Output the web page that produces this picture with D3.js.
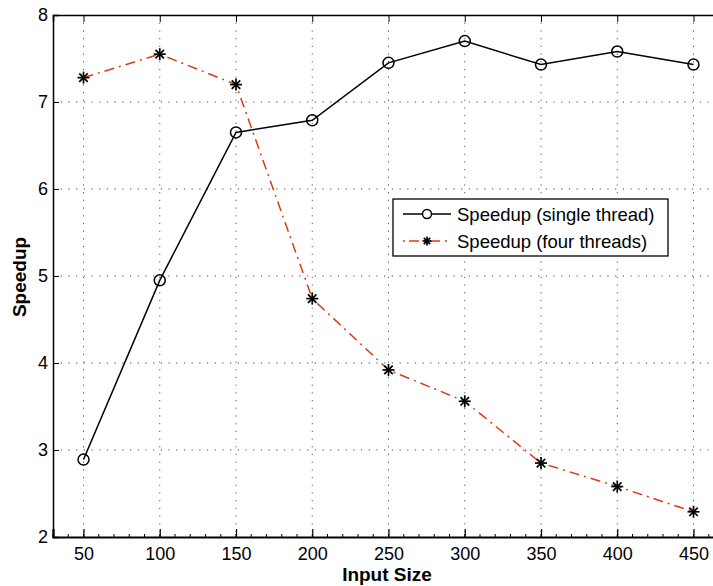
<!DOCTYPE html>
<html><head><meta charset="utf-8">
<script src="https://cdn.jsdelivr.net/npm/d3@7/dist/d3.min.js"></script>
<style>body{margin:0;background:#fff;} svg{display:block;}</style>
</head><body>
<svg id="c" width="713" height="586"></svg>
<script>
const inputSizes = [50,100,150,200,250,300,350,400,450];
const singleThread = [2.89,4.95,6.65,6.79,7.45,7.70,7.43,7.58,7.43];
const fourThreads = [7.28,7.55,7.20,4.74,3.92,3.56,2.85,2.58,2.29];
const xTicks = [50,100,150,200,250,300,350,400,450];
const yTicks = [2,3,4,5,6,7,8];
const seriesNames = ["Speedup (single thread)","Speedup (four threads)"];

const svg = d3.select("#c");
const L=53, T=15, R=724, B=537;
const x = d3.scaleLinear().domain([30,470]).range([L,R]);
const y = d3.scaleLinear().domain([2,8]).range([B,T]);
const font = "'Liberation Sans', Arial, Helvetica, sans-serif";
const red = "#dc3c14";

// grid
const g = svg.append("g");
g.selectAll(".vg").data(xTicks).join("line")
  .attr("x1",d=>x(d)).attr("x2",d=>x(d)).attr("y1",T).attr("y2",B)
  .attr("stroke","#555").attr("stroke-width",1).attr("stroke-dasharray","1.2,6.5");
g.selectAll(".hg").data(yTicks.slice(1,-1)).join("line")
  .attr("x1",L).attr("x2",R).attr("y1",d=>y(d)).attr("y2",d=>y(d))
  .attr("stroke","#444").attr("stroke-width",1).attr("stroke-dasharray","1.2,6.5");

// minor ticks on bottom
const minor = d3.range(30,471,10);
g.selectAll(".mt").data(minor).join("line")
  .attr("x1",d=>x(d)).attr("x2",d=>x(d)).attr("y1",B).attr("y2",B-3)
  .attr("stroke","#000").attr("stroke-width",1);

// axes with inward ticks
const xAxis = d3.axisBottom(x).tickValues(xTicks).tickSize(-8).tickPadding(10);
const xg = svg.append("g").attr("transform",`translate(0,${B})`).call(xAxis);
xg.select(".domain").attr("stroke-width",2.2);
xg.selectAll(".tick line").attr("stroke-width",1.2);
xg.selectAll("text").attr("font-family",font).attr("font-size",18).attr("fill","#000");

const xTop = d3.axisTop(x).tickValues(xTicks).tickSize(-7).tickFormat("");
const xtg = svg.append("g").attr("transform",`translate(0,${T})`).call(xTop);
xtg.select(".domain").attr("stroke-width",1.5);

const yAxis = d3.axisLeft(y).tickValues(yTicks).tickSize(-6).tickPadding(5).tickFormat(d3.format("d"));
const yg = svg.append("g").attr("transform",`translate(${L},0)`).call(yAxis);
yg.select(".domain").attr("stroke-width",1.5);
yg.selectAll("text").attr("font-family",font).attr("font-size",18).attr("fill","#000");
yg.selectAll(".tick").filter(d=>d===2||d===8).select("line").remove();

// axis labels
svg.append("text").attr("x",387).attr("y",581).attr("text-anchor","middle")
  .attr("font-family",font).attr("font-weight","bold").attr("font-size",19).text("Input Size");
svg.append("text").attr("transform","translate(26,277) rotate(-90)").attr("text-anchor","middle")
  .attr("font-family",font).attr("font-weight","bold").attr("font-size",19).text("Speedup");

// lines
const line = d3.line().x((d,i)=>x(inputSizes[i])).y(d=>y(d));
svg.append("path").datum(fourThreads).attr("d",line).attr("fill","none")
  .attr("stroke",red).attr("stroke-width",1.5).attr("stroke-dasharray","10,5,2,5");
svg.append("path").datum(singleThread).attr("d",line).attr("fill","none")
  .attr("stroke","#000").attr("stroke-width",1.5);

function star(sel, cx, cy, r){
  const gg = sel.append("g").attr("transform",`translate(${cx},${cy})`);
  [0,45,90,135].forEach(a=>{
    const rad=a*Math.PI/180, dx=Math.cos(rad)*r, dy=Math.sin(rad)*r;
    gg.append("line").attr("x1",-dx).attr("y1",-dy).attr("x2",dx).attr("y2",dy)
      .attr("stroke","#000").attr("stroke-width",1.7);
  });
}
const ms = svg.append("g");
fourThreads.forEach((v,i)=>star(ms, x(inputSizes[i]), y(v), 6));
svg.append("g").selectAll("circle").data(singleThread).join("circle")
  .attr("cx",(d,i)=>x(inputSizes[i])).attr("cy",d=>y(d)).attr("r",5.5)
  .attr("fill","none").attr("stroke","#000").attr("stroke-width",1.5);

// legend
const lg = svg.append("g");
lg.append("rect").attr("x",393).attr("y",199).attr("width",275).attr("height",57)
  .attr("fill","#fff").attr("stroke","#000").attr("stroke-width",1.3);
lg.append("line").attr("x1",403).attr("x2",451).attr("y1",214).attr("y2",214).attr("stroke","#000").attr("stroke-width",1.5);
lg.append("circle").attr("cx",427).attr("cy",214).attr("r",4.5).attr("fill","#fff").attr("stroke","#000").attr("stroke-width",1.5);
lg.append("line").attr("x1",403).attr("x2",451).attr("y1",241).attr("y2",241).attr("stroke",red).attr("stroke-width",1.5).attr("stroke-dasharray","2,4,10,5");
star(lg,427,241,4.5);
lg.selectAll(".lt").data(seriesNames).join("text")
  .attr("x",457).attr("y",(d,i)=>221+i*27)
  .attr("font-family",font).attr("font-size",18.5).text(d=>d);
</script>
</body></html>
